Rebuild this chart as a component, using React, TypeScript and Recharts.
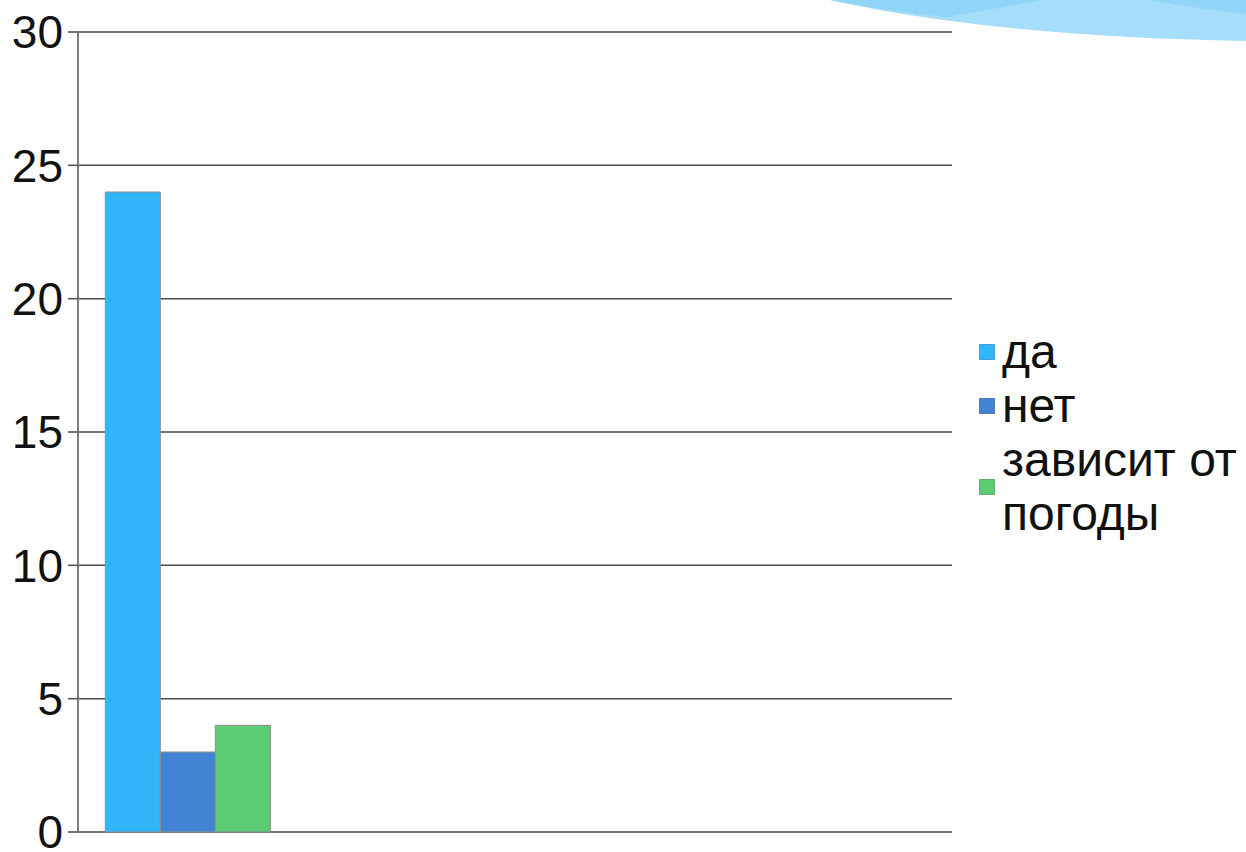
import React from 'react';
import { BarChart, Bar, XAxis, YAxis, CartesianGrid, Legend } from 'recharts';

const categories = ['1', '2', '3', '4'];
const yesValues = [24, null, null, null];
const noValues = [3, null, null, null];
const weatherValues = [4, null, null, null];
const yTicks = [0, 5, 10, 15, 20, 25, 30];
const seriesNames = ['да', 'нет', 'зависит от погоды'];
const seriesColors = ['#33B5FC', '#4283D3', '#5BCB74'];

const data = categories.map((c, i) => ({
  name: c,
  yes: yesValues[i],
  no: noValues[i],
  weather: weatherValues[i],
}));

const FONT = '"Liberation Sans", Arial, sans-serif';

const renderLegend = () => (
  <div style={{ fontFamily: FONT, fontSize: 48, color: '#111' }}>
    {seriesNames.map((n, i) => (
      <div key={n} style={{ display: 'flex', alignItems: 'center' }}>
        <div
          style={{
            width: 16,
            height: 16,
            background: seriesColors[i],
            border: '1px solid rgba(120,120,120,0.35)',
            boxSizing: 'border-box',
            marginRight: 7,
            flex: '0 0 auto',
          }}
        />
        <div style={{ lineHeight: '54px', width: 244, whiteSpace: 'normal' }}>{n}</div>
      </div>
    ))}
  </div>
);

export default function App() {
  return (
    <div style={{ position: 'absolute', left: 0, top: 0, width: 1246, height: 852, background: '#fff', overflow: 'hidden' }}>
      <svg width={1246} height={60} style={{ position: 'absolute', left: 0, top: 0 }}>
        <path d="M 830 0 Q 990 36 1246 41 L 1246 0 Z" fill="#A6DDFA" />
        <path d="M 830 0 Q 900 13 947 17 Q 1000 8 1040 0 Z" fill="#90D4F8" />
        <path d="M 1150 0 Q 1200 9 1246 14 L 1246 0 Z" fill="#90D4F8" />
      </svg>
      <div style={{ position: 'absolute', left: 0, top: 0 }}>
        <BarChart
          width={1246}
          height={852}
          data={data}
          margin={{ top: 32, right: 294, left: 0, bottom: 20 }}
          barCategoryGap="12.5%"
          barGap={0}
        >
          <CartesianGrid vertical={false} stroke="#4a4a4a" strokeWidth={1.5} />
          <XAxis dataKey="name" hide />
          <YAxis
            width={78}
            domain={[0, 30]}
            ticks={yTicks}
            interval={0}
            tickSize={10}
            tickMargin={5}
            axisLine={{ stroke: '#808080', strokeWidth: 2 }}
            tickLine={{ stroke: '#4a4a4a', strokeWidth: 1.5 }}
            tick={{ fill: '#111', fontSize: 46, fontFamily: FONT }}
          />
          <Legend
            layout="vertical"
            align="center"
            verticalAlign="middle"
            wrapperStyle={{ left: 979, top: 325, width: 267 }}
            content={renderLegend}
          />
          <Bar dataKey="yes" name={seriesNames[0]} fill={seriesColors[0]} stroke="#8c8c8c" strokeWidth={1} isAnimationActive={false} />
          <Bar dataKey="no" name={seriesNames[1]} fill={seriesColors[1]} stroke="#8c8c8c" strokeWidth={1} isAnimationActive={false} />
          <Bar dataKey="weather" name={seriesNames[2]} fill={seriesColors[2]} stroke="#8c8c8c" strokeWidth={1} isAnimationActive={false} />
        </BarChart>
      </div>
    </div>
  );
}
